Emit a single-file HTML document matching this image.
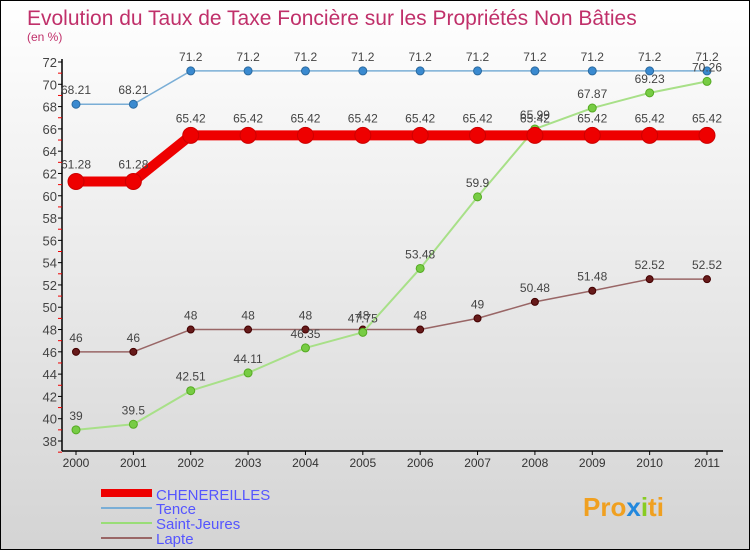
<!DOCTYPE html>
<html><head><meta charset="utf-8"><style>
body{margin:0;width:750px;height:550px;overflow:hidden;font-family:"Liberation Sans",sans-serif}
#wrap{position:relative;width:748px;height:548px;border:1px solid #000;background:linear-gradient(#ffffff,#d4d4d4)}
</style></head><body>
<div id="wrap">
<svg id="chart" width="748" height="548" style="position:absolute;left:0;top:0">
<text x="26" y="24" font-size="21" fill="#c0306a">Evolution du Taux de Taxe Foncière sur les Propriétés Non Bâties</text>
<text x="26" y="40" font-size="12" fill="#c0306a">(en %)</text>
<g id="axes"></g><g id="series"></g>
<g>
<line x1="100" y1="492" x2="151" y2="492" stroke="#e00" stroke-width="8"/>
<text x="155" y="499" font-size="15" fill="#5555ff">CHENEREILLES</text>
<line x1="100" y1="507" x2="151" y2="507" stroke="#7aaed6" stroke-width="2"/>
<text x="155" y="513" font-size="15" fill="#5555ff">Tence</text>
<line x1="100" y1="522" x2="151" y2="522" stroke="#99dd77" stroke-width="2"/>
<text x="155" y="528" font-size="15" fill="#5555ff">Saint-Jeures</text>
<line x1="100" y1="537" x2="151" y2="537" stroke="#996666" stroke-width="2"/>
<text x="155" y="543" font-size="15" fill="#5555ff">Lapte</text>
</g>
<g>
<text x="582" y="515" font-size="26" font-weight="bold" fill="#f0a020">Pro<tspan fill="#2288dd">x</tspan><tspan fill="#88cc22">i</tspan><tspan fill="#f0a020">ti</tspan></text>
</g>
</svg></div>
<script>
const years=[2000,2001,2002,2003,2004,2005,2006,2007,2008,2009,2010,2011];
const yTicks=[38,40,42,44,46,48,50,52,54,56,58,60,62,64,66,68,70,72];
const chenereilles=[61.28,61.28,65.42,65.42,65.42,65.42,65.42,65.42,65.42,65.42,65.42,65.42];
const tence=[68.21,68.21,71.2,71.2,71.2,71.2,71.2,71.2,71.2,71.2,71.2,71.2];
const saintJeures=[39,39.5,42.51,44.11,46.35,47.75,53.48,59.9,65.99,67.87,69.23,70.26];
const lapte=[46,46,48,48,48,48,48,49,50.48,51.48,52.52,52.52];
const NS="http://www.w3.org/2000/svg";
const xS=i=>75+i*(706-75)/11;
const yS=v=>440-(v-38)*(440-61)/34;
function mk(tag,attrs,parent){const e=document.createElementNS(NS,tag);for(const k in attrs)e.setAttribute(k,attrs[k]);parent.appendChild(e);return e;}
const ax=document.getElementById('axes');
let l=mk('line',{x1:61,y1:58,x2:61,y2:450,stroke:'#000','stroke-width':1.5},ax);


l=mk('line',{x1:61,y1:450,x2:722,y2:450,stroke:'#000','stroke-width':1.5},ax);


yTicks.forEach(v=>{const y=yS(v);
 mk('line',{x1:57,y1:y,x2:61,y2:y,stroke:'#000'},ax);
 mk('line',{x1:57,y1:y+11.15,x2:61,y2:y+11.15,stroke:'#e00'},ax);
 const t=mk('text',{x:56,y:y+5,'text-anchor':'end','font-size':13,fill:'#444'},ax);t.textContent=v;
 
 });
years.forEach((yr,i)=>{const x=xS(i);
 mk('line',{x1:x,y1:450,x2:x,y2:454,stroke:'#000'},ax);
 const t=mk('text',{x:x,y:466,'text-anchor':'middle','font-size':12,fill:'#333'},ax);t.textContent=yr;
 
 });
const sg=document.getElementById('series');
function draw(vals,name,color,w,r,dot,dstroke,off){
 const g=mk('g',{},sg);
 
 
 mk('polyline',{points:vals.map((v,i)=>xS(i)+','+yS(v)).join(' '),fill:'none',stroke:color,'stroke-width':w,'stroke-linejoin':'round'},g);
 vals.forEach((v,i)=>{const c=mk('circle',{cx:xS(i),cy:yS(v),r:r,fill:dot,stroke:dstroke,'stroke-width':1},g);
  
  
  const t=mk('text',{x:xS(i),y:yS(v)-off,'text-anchor':'middle','font-size':12,fill:'#444'},g);t.textContent=v;
  
  });
}
draw(tence,'tence','#7aaed6',1.5,4,'#3a8ad0','#2a6aa0',10);
draw(lapte,'lapte','#996666',1.5,3.5,'#661a1a','#440000',10);
draw(saintJeures,'saint-jeures','#a8e088',2,4,'#77cc44','#55aa22',10);
draw(chenereilles,'chenereilles','#ee0000',10,8,'#ee0000','#cc0000',13);
</script>
</body></html>
